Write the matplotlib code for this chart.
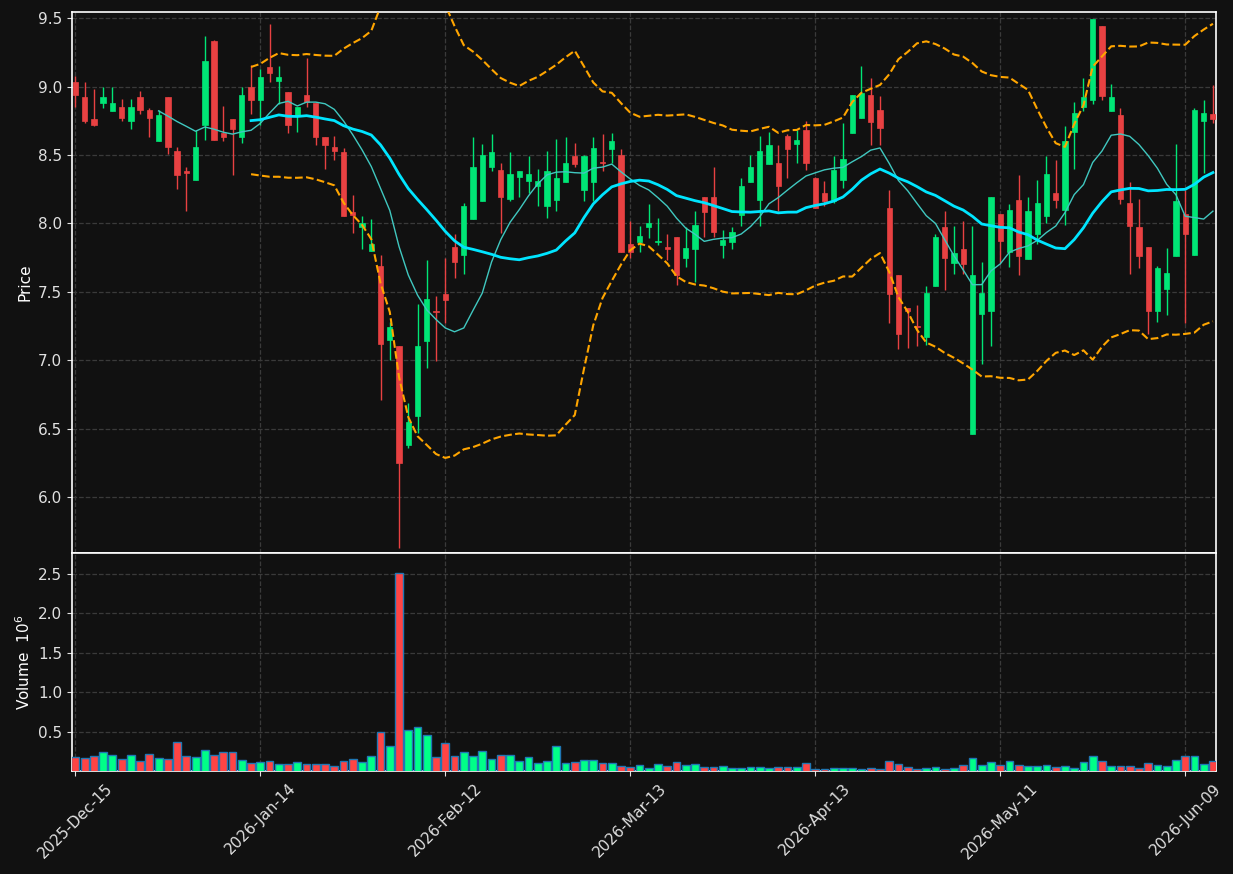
import matplotlib
matplotlib.use('Agg')
import matplotlib.pyplot as plt
import numpy as np
import pandas as pd

# OHLC (one value per trading day)
opens = [9.03, 8.92, 8.76, 8.88, 8.82, 8.85, 8.75, 8.92, 8.83, 8.60,
         8.92, 8.53, 8.38, 8.32, 8.72, 9.33, 8.66, 8.76, 8.63, 9.00,
         8.90, 9.14, 9.04, 8.96, 8.79, 8.94, 8.88, 8.63, 8.56, 8.52,
         8.08, 7.97, 7.80, 7.69, 7.15, 7.10, 6.38, 6.59, 7.14, 7.36,
         7.48, 7.83, 7.77, 8.03, 8.16, 8.41, 8.39, 8.18, 8.34, 8.31,
         8.27, 8.13, 8.17, 8.30, 8.49, 8.24, 8.30, 8.45, 8.54, 8.50,
         7.85, 7.86, 7.97, 7.86, 7.83, 7.90, 7.75, 7.81, 8.19, 8.19,
         7.84, 7.86, 8.06, 8.30, 8.17, 8.43, 8.44, 8.64, 8.58, 8.68,
         8.33, 8.22, 8.16, 8.32, 8.66, 8.77, 8.94, 8.83, 8.11, 7.62,
         7.38, 7.25, 7.17, 7.54, 7.97, 7.71, 7.81, 6.46, 7.34, 7.36,
         8.07, 7.79, 8.17, 7.74, 7.92, 8.05, 8.22, 8.10, 8.67, 8.85,
         8.90, 9.44, 8.82, 8.79, 8.15, 7.97, 7.83, 7.36, 7.52, 7.76,
         8.07, 7.77, 8.75, 8.80]
highs = [9.08, 9.03, 8.98, 9.00, 9.00, 8.91, 8.91, 8.97, 8.84, 8.83,
         8.92, 8.56, 8.41, 8.68, 9.37, 9.34, 8.86, 8.76, 9.00, 9.16,
         9.13, 9.46, 9.15, 8.96, 8.85, 9.21, 8.88, 8.63, 8.64, 8.55,
         8.21, 8.05, 8.03, 7.77, 7.28, 7.10, 6.69, 7.41, 7.73, 7.47,
         7.75, 7.92, 8.15, 8.63, 8.58, 8.65, 8.44, 8.52, 8.38, 8.49,
         8.40, 8.53, 8.62, 8.63, 8.59, 8.50, 8.63, 8.65, 8.66, 8.54,
         8.02, 7.98, 8.14, 8.04, 7.92, 7.90, 7.97, 8.09, 8.19, 8.41,
         7.95, 7.97, 8.33, 8.50, 8.64, 8.67, 8.57, 8.65, 8.68, 8.75,
         8.34, 8.31, 8.49, 8.73, 8.94, 9.15, 9.06, 8.93, 8.24, 7.62,
         7.38, 7.40, 7.54, 7.92, 8.09, 7.98, 8.02, 7.98, 7.72, 8.19,
         8.07, 8.14, 8.35, 8.19, 8.32, 8.49, 8.46, 8.71, 8.89, 9.06,
         9.49, 9.44, 9.02, 8.84, 8.30, 8.18, 7.83, 7.69, 7.82, 8.58,
         8.24, 8.84, 8.90, 9.01]
lows = [8.85, 8.73, 8.71, 8.84, 8.82, 8.75, 8.69, 8.80, 8.63, 8.60,
        8.51, 8.25, 8.09, 8.32, 8.61, 8.61, 8.60, 8.35, 8.59, 8.80,
        8.72, 9.03, 8.87, 8.66, 8.67, 8.85, 8.57, 8.40, 8.46, 8.05,
        7.93, 7.81, 7.80, 6.71, 7.00, 5.63, 6.36, 6.47, 6.94, 6.99,
        7.27, 7.60, 7.63, 8.03, 8.16, 8.38, 7.93, 8.16, 8.19, 8.22,
        8.13, 8.04, 8.09, 8.30, 8.41, 8.16, 8.16, 8.38, 8.44, 7.79,
        7.75, 7.79, 7.89, 7.84, 7.73, 7.55, 7.68, 7.57, 7.90, 7.90,
        7.75, 7.81, 7.98, 8.30, 7.98, 8.43, 8.09, 8.33, 8.44, 8.39,
        8.11, 8.13, 8.15, 8.26, 8.66, 8.77, 8.57, 8.57, 7.27, 7.08,
        7.09, 7.10, 7.11, 7.54, 7.51, 7.63, 7.63, 6.46, 6.97, 7.10,
        7.71, 7.68, 7.62, 7.74, 7.85, 8.00, 8.11, 7.99, 8.40, 8.82,
        8.87, 8.90, 8.82, 8.14, 7.63, 7.67, 7.19, 7.28, 7.33, 7.76,
        7.27, 7.77, 8.37, 8.73]
closes = [8.94, 8.75, 8.72, 8.92, 8.88, 8.77, 8.85, 8.83, 8.77, 8.79,
          8.56, 8.35, 8.37, 8.56, 9.19, 8.61, 8.63, 8.69, 8.94, 8.90,
          9.07, 9.10, 9.07, 8.72, 8.85, 8.89, 8.63, 8.57, 8.53, 8.05,
          8.06, 8.00, 7.85, 7.12, 7.24, 6.25, 6.55, 7.10, 7.45, 7.35,
          7.44, 7.72, 8.13, 8.41, 8.50, 8.52, 8.19, 8.36, 8.38, 8.36,
          8.31, 8.38, 8.33, 8.44, 8.43, 8.49, 8.55, 8.44, 8.60, 7.79,
          7.79, 7.91, 8.00, 7.87, 7.81, 7.62, 7.82, 7.99, 8.08, 7.94,
          7.88, 7.94, 8.27, 8.41, 8.53, 8.57, 8.27, 8.54, 8.61, 8.44,
          8.11, 8.16, 8.39, 8.47, 8.94, 8.95, 8.74, 8.70, 7.48, 7.19,
          7.36, 7.24, 7.49, 7.90, 7.75, 7.78, 7.70, 7.62, 7.49, 8.19,
          7.87, 8.10, 7.76, 8.09, 8.15, 8.36, 8.17, 8.60, 8.81, 8.92,
          9.49, 8.93, 8.92, 8.18, 7.98, 7.76, 7.36, 7.67, 7.64, 8.16,
          7.92, 8.83, 8.81, 8.76]
# volume in millions
volumes = [0.181, 0.169, 0.194, 0.245, 0.207, 0.156, 0.207, 0.131, 0.220, 0.169,
           0.156, 0.373, 0.194, 0.181, 0.271, 0.207, 0.245, 0.245, 0.143, 0.105,
           0.118, 0.131, 0.092, 0.092, 0.118, 0.092, 0.092, 0.092, 0.067, 0.131,
           0.156, 0.118, 0.194, 0.500, 0.322, 2.510, 0.525, 0.564, 0.462, 0.181,
           0.360, 0.194, 0.245, 0.194, 0.258, 0.156, 0.207, 0.207, 0.131, 0.181,
           0.105, 0.131, 0.322, 0.105, 0.118, 0.143, 0.143, 0.105, 0.105, 0.067,
           0.054, 0.080, 0.041, 0.092, 0.067, 0.118, 0.080, 0.092, 0.054, 0.054,
           0.067, 0.041, 0.041, 0.054, 0.054, 0.041, 0.054, 0.054, 0.054, 0.105,
           0.028, 0.028, 0.041, 0.041, 0.041, 0.028, 0.041, 0.028, 0.131, 0.092,
           0.054, 0.028, 0.041, 0.054, 0.028, 0.041, 0.080, 0.169, 0.080, 0.118,
           0.080, 0.131, 0.080, 0.067, 0.067, 0.080, 0.054, 0.067, 0.041, 0.118,
           0.194, 0.131, 0.067, 0.067, 0.067, 0.041, 0.105, 0.080, 0.067, 0.143,
           0.194, 0.194, 0.092, 0.131]

holidays = ['2025-12-25', '2026-01-01', '2026-01-19', '2026-02-16', '2026-04-03', '2026-05-25']
dates = pd.bdate_range('2025-12-15', periods=len(closes), freq='C', holidays=holidays)

o = np.array(opens); h = np.array(highs); l = np.array(lows); c = np.array(closes)
v = np.array(volumes)
x = np.arange(len(c))
up = c >= o

bg = '#111111'
up_c, dn_c = '#00e676', '#e84142'
vup_c, vdn_c = '#00ff88', '#ff4444'

cs = pd.Series(c)
mav10 = cs.rolling(10).mean()
mav20 = cs.rolling(20).mean()
std20 = cs.rolling(20).std(ddof=0)
bb_up = mav20 + 2 * std20
bb_lo = mav20 - 2 * std20

fig = plt.figure(figsize=(12.33, 8.74), dpi=100, facecolor=bg)
ax = fig.add_axes([0.0584, 0.3673, 0.9278, 0.619], facecolor=bg)
axv = fig.add_axes([0.0584, 0.1178, 0.9278, 0.2495], facecolor=bg, sharex=ax)

# candles
cols = np.where(up, up_c, dn_c)
ax.vlines(x, l, h, colors=cols, linewidth=1, zorder=2)
body_lo = np.minimum(o, c)
body_h = np.maximum(np.abs(c - o), 0.006)
ax.bar(x, body_h, bottom=body_lo, width=0.58, color=cols, edgecolor=cols, linewidth=0.5, zorder=3)

ax.plot(x, mav10, color='#40c8c0', linewidth=1, zorder=4)
ax.plot(x, mav20, color='#00e5ff', linewidth=2, zorder=4)
ax.plot(x, bb_up, color='#ffa500', linestyle='--', linewidth=1.5, zorder=4)
ax.plot(x, bb_lo, color='#ffa500', linestyle='--', linewidth=1.5, zorder=4)

# volume
vcols = np.where(up, vup_c, vdn_c)
axv.bar(x, v, width=0.85, color=vcols, edgecolor='#1f77b4', linewidth=1, zorder=3)

ax.set_xlim(-0.36, len(c) - 0.67)
ax.set_ylim(5.59, 9.545)
ax.set_yticks(np.arange(6.0, 9.51, 0.5))
axv.set_ylim(0.3 * v.min(), 1.1 * v.max())
axv.set_yticks([0.5, 1.0, 1.5, 2.0, 2.5])

ticks = x[::20]
axv.set_xticks(ticks)
axv.set_xticklabels([d.strftime('%Y-%b-%d') for d in dates[::20]], rotation=45)

ax.set_ylabel('Price', color='white', fontsize=11)
axv.set_ylabel('Volume  $10^{6}$', color='white', fontsize=11)

for a in (ax, axv):
    a.grid(True, linestyle='--', color='#3a3a3a', linewidth=0.9)
    a.set_axisbelow(True)
    for s in a.spines.values():
        s.set_color('white')
        s.set_linewidth(1.2)
    a.tick_params(colors='#e0e0e0', labelsize=11)
ax.tick_params(axis='x', bottom=False, labelbottom=False)

fig.savefig('out.png', dpi=100, facecolor=bg)
